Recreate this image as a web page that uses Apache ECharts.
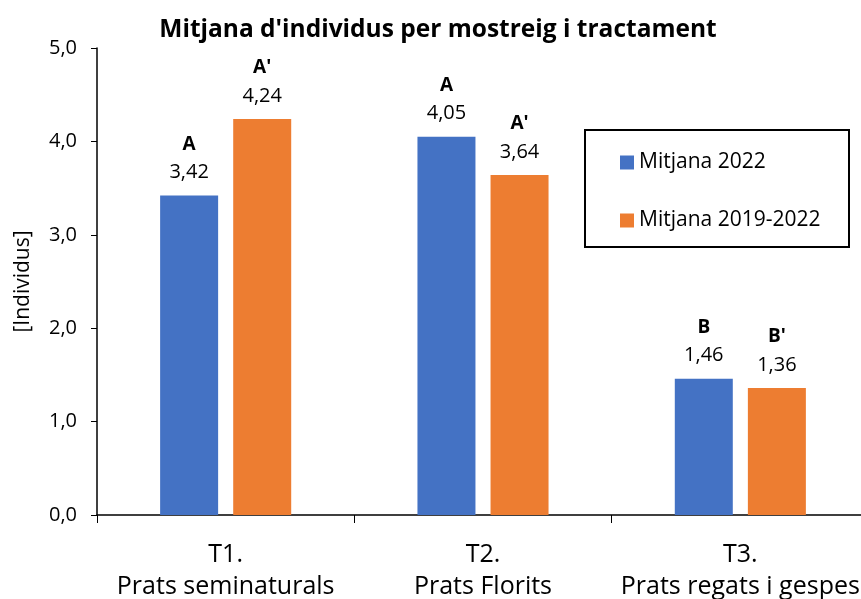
<!DOCTYPE html>
<html><head><meta charset="utf-8">
<script src="https://cdn.jsdelivr.net/npm/echarts@6/dist/echarts.min.js"></script>
<style>html,body{margin:0;padding:0;background:#fff}#c{width:861px;height:599px}</style>
</head><body><div id="c"></div>
<script>
const categories = ['T1.\nPrats seminaturals', 'T2.\nPrats Florits', 'T3.\nPrats regats i gespes'];
const seriesNames = ['Mitjana 2022', 'Mitjana 2019-2022'];
const values2022 = [3.42, 4.05, 1.46];
const values2019_2022 = [4.24, 3.64, 1.36];
const letters2022 = ['A', 'A', 'B'];
const letters2019_2022 = ["A'", "A'", "B'"];
const yTicks = [0, 1, 2, 3, 4, 5];

const FONT = '"Open Sans", sans-serif';
const fmt = v => v.toFixed(2).replace('.', ',');
function mkLabel(letters) {
  return {
    show: true, position: 'top', distance: 9,
    formatter: p => '{l|' + letters[p.dataIndex] + '}\n{v|' + fmt(p.value) + '}',
    rich: {
      l: { fontFamily: FONT, fontWeight: 'bold', fontSize: 19, color: '#000', lineHeight: 28, align: 'center' },
      v: { fontFamily: FONT, fontSize: 20, color: '#000', lineHeight: 28, align: 'center' }
    }
  };
}
const chart = echarts.init(document.getElementById('c'));
chart.setOption({
  animation: false,
  textStyle: { fontFamily: FONT },
  title: { text: "Mitjana d'individus per mostreig i tractament", left: 433, textAlign: 'center', top: 13,
    textStyle: { fontFamily: FONT, fontWeight: 'bold', fontSize: 24.5, color: '#000' } },
  grid: { left: 97, width: 772, top: 48, bottom: 84, containLabel: false, outerBoundsMode: 'none' },
  graphic: [{
    type: 'rect', left: 584, top: 129, z: 0, silent: true,
    shape: { width: 264, height: 117 },
    style: { fill: '#fff', stroke: '#000', lineWidth: 2 }
  }],
  legend: {
    orient: 'vertical', left: 584, top: 129, z: 10,
    data: seriesNames, itemWidth: 14, itemHeight: 14, itemGap: 37,
    borderWidth: 0, padding: [23, 10, 16, 36],
    textStyle: { fontFamily: FONT, fontSize: 21, color: '#000' }, icon: 'rect'
  },
  xAxis: {
    type: 'category', data: categories,
    axisLine: { lineStyle: { color: '#000', width: 1.5 } },
    axisTick: { show: true, length: 8, lineStyle: { color: '#000' } },
    axisLabel: { fontFamily: FONT, fontSize: 25, color: '#000', lineHeight: 32, margin: 24, interval: 0, hideOverlap: false }
  },
  yAxis: {
    type: 'value', min: 0, max: 5, interval: 1,
    name: '[Individus]', nameLocation: 'middle', nameGap: 63, nameRotate: 90,
    nameTextStyle: { fontFamily: FONT, fontSize: 21, color: '#000' },
    axisLine: { show: true, lineStyle: { color: '#000', width: 1.5 } },
    axisTick: { show: true, length: 6, lineStyle: { color: '#000' } },
    splitLine: { show: false },
    axisLabel: { fontFamily: FONT, fontSize: 20, color: '#000', margin: 20,
      formatter: v => yTicks.includes(v) ? v.toFixed(1).replace('.', ',') : '' }
  },
  series: [
    { name: seriesNames[0], type: 'bar', data: values2022, barWidth: 58, barGap: '26%',
      itemStyle: { color: '#4472C4' }, label: mkLabel(letters2022) },
    { name: seriesNames[1], type: 'bar', data: values2019_2022, barWidth: 58,
      itemStyle: { color: '#ED7D31' }, label: mkLabel(letters2019_2022) }
  ]
});
</script></body></html>
